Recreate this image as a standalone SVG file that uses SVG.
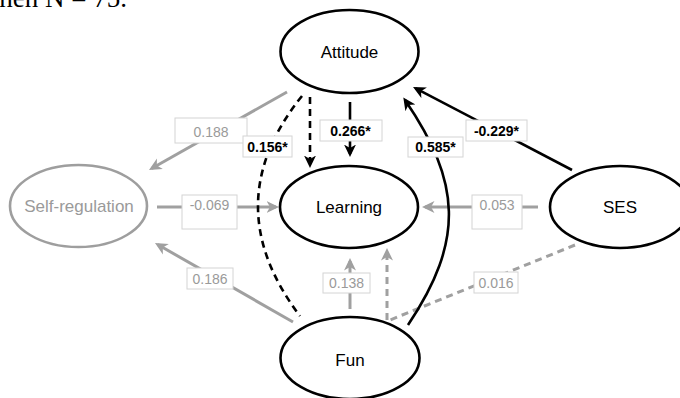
<svg xmlns="http://www.w3.org/2000/svg" width="680" height="398" viewBox="0 0 680 398">
<style>
.node{fill:#fff;stroke:#000;stroke-width:2.6}
.gnode{fill:#fff;stroke:#9e9e9e;stroke-width:2.6}
.nt{font-family:"Liberation Sans",Arial,sans-serif;font-size:17px;text-anchor:middle;fill:#000}
.gnt{font-family:"Liberation Sans",Arial,sans-serif;font-size:17px;text-anchor:middle;fill:#9a9a9a}
.b{fill:none;stroke:#000;stroke-width:2.6}
.g{fill:none;stroke:#a0a0a0;stroke-width:3}
.dash{stroke-dasharray:7 5}
.lb{fill:#fff;stroke:#d4d4d4;stroke-width:1}
.lt{font-family:"Liberation Sans",Arial,sans-serif;font-size:14px;text-anchor:middle;fill:#9a9a9a}
.lbt{font-family:"Liberation Sans",Arial,sans-serif;font-size:14px;font-weight:bold;text-anchor:middle;fill:#000}
</style>
<defs>
<marker id="ab" markerUnits="userSpaceOnUse" markerWidth="13" markerHeight="13" viewBox="0 0 13 13" refX="9.5" refY="6.5" orient="auto">
<path d="M0,0.5 L12.5,6.5 L0,12.5 L3.5,6.5 z" fill="#000"/>
</marker>
<marker id="ag" markerUnits="userSpaceOnUse" markerWidth="13" markerHeight="13" viewBox="0 0 13 13" refX="9.5" refY="6.5" orient="auto">
<path d="M0,0.5 L12.5,6.5 L0,12.5 L3.5,6.5 z" fill="#a0a0a0"/>
</marker>
</defs>
<rect width="680" height="398" fill="#fff"/>
<text x="127" y="7" font-family="Liberation Serif,serif" font-size="27" text-anchor="end" fill="#000">hen N = 75.</text>
<g id="connectors">
<line class="g" x1="287" y1="92" x2="151.6" y2="168.5" marker-end="url(#ag)"/>
<line class="g" x1="157" y1="207" x2="276" y2="207" marker-end="url(#ag)"/>
<line class="g" x1="538" y1="207" x2="425" y2="207" marker-end="url(#ag)"/>
<line class="g" x1="293" y1="322" x2="157.6" y2="244.5" marker-end="url(#ag)"/>
<line class="g" x1="350" y1="309" x2="350" y2="261" marker-end="url(#ag)"/>
<line class="g dash" x1="387" y1="320" x2="387" y2="251" marker-end="url(#ag)"/>
<line class="g dash" x1="575" y1="245" x2="390" y2="320"/>
<path class="b dash" d="M302,96 Q215,204 300,316"/>
<line class="b dash" x1="310" y1="97" x2="310" y2="165" marker-end="url(#ab)"/>
<line class="b" x1="350" y1="102" x2="350" y2="154" marker-end="url(#ab)"/>
<path class="b" d="M408,325 C465,240 461,182 405,100" marker-end="url(#ab)"/>
<line class="b" x1="572" y1="170" x2="415.7" y2="88.4" marker-end="url(#ab)"/>
<rect class="lb" x="175" y="118" width="72" height="25"/><text class="lt" x="211" y="137">0.188</text>
<rect class="lb" x="243" y="136" width="49" height="21"/><text class="lbt" x="267.5" y="152">0.156*</text>
<rect class="lb" x="320" y="120" width="62" height="21"/><text class="lbt" x="350.5" y="136">0.266*</text>
<rect class="lb" x="408" y="137" width="55" height="20"/><text class="lbt" x="435.5" y="152">0.585*</text>
<rect class="lb" x="466" y="120" width="61" height="21"/><text class="lbt" x="496.5" y="136">-0.229*</text>
<rect class="lb" x="182" y="195" width="55" height="34"/><text class="lt" x="209.5" y="210">-0.069</text>
<rect class="lb" x="472" y="195" width="50" height="34"/><text class="lt" x="497" y="210">0.053</text>
<rect class="lb" x="187" y="268" width="46" height="21"/><text class="lt" x="210" y="284">0.186</text>
<rect class="lb" x="323" y="273" width="47" height="20"/><text class="lt" x="346.5" y="288">0.138</text>
<rect class="lb" x="474" y="272" width="44" height="21"/><text class="lt" x="496" y="288">0.016</text>
</g>
<g id="attitude"><ellipse class="node" cx="349.5" cy="51.5" rx="69" ry="41.5"/><text class="nt" x="349.5" y="58">Attitude</text></g>
<g id="learning"><ellipse class="node" cx="349" cy="207" rx="69" ry="41"/><text class="nt" x="349" y="213">Learning</text></g>
<g id="selfregulation"><ellipse class="gnode" cx="78.5" cy="206" rx="68.5" ry="41"/><text class="gnt" x="79" y="212">Self-regulation</text></g>
<g id="ses"><ellipse class="node" cx="620" cy="207" rx="70" ry="41"/><text class="nt" x="620" y="213">SES</text></g>
<g id="fun"><ellipse class="node" cx="350" cy="358" rx="69.5" ry="41"/><text class="nt" x="350" y="366">Fun</text></g>
</svg>
